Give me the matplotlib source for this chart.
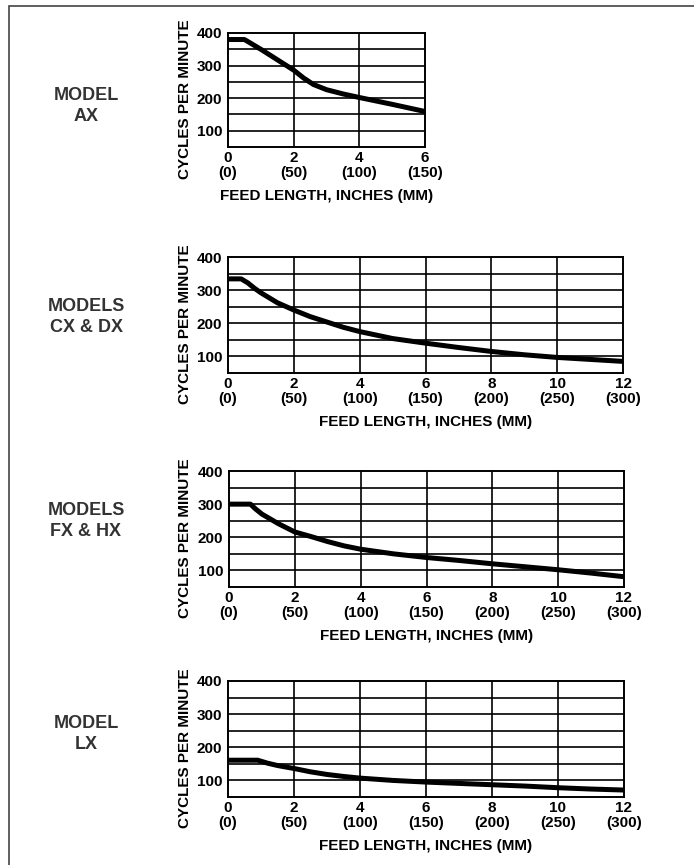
import matplotlib
matplotlib.use("Agg")
import matplotlib.pyplot as plt
from matplotlib.patches import Rectangle

plt.rcParams['font.family'] = ['Liberation Sans', 'DejaVu Sans']
plt.rcParams['font.weight'] = 'bold'

# Data (feed length in inches, cycles per minute)
ax_x = [0, 0.5, 1, 1.5, 2, 2.3, 2.6, 3, 3.5, 4, 5, 6]
ax_y = [380, 380, 350, 318, 286, 262, 242, 226, 213, 202, 181, 159]

cx_x = [0, 0.4, 0.6, 0.8, 1, 1.5, 2, 2.5, 3, 3.5, 4, 5, 6, 7, 8, 9, 10, 11, 12]
cx_y = [334, 334, 322, 306, 292, 262, 240, 220, 204, 188, 175, 154, 140, 127, 115, 105, 97, 91, 85]

fx_x = [0, 0.65, 0.8, 1, 1.5, 2, 2.5, 3, 3.5, 4, 5, 6, 7, 8, 9, 10, 11, 12]
fx_y = [300, 300, 286, 270, 241, 216, 202, 187, 174, 164, 150, 139, 130, 120, 111, 102, 92, 81]

lx_x = [0, 0.9, 1.2, 1.5, 2, 2.5, 3, 3.5, 4, 5, 6, 7, 8, 9, 10, 11, 12]
lx_y = [161, 161, 152, 145, 136, 126, 118, 112, 107, 100, 95, 91, 87, 83, 78, 74, 71]

model_labels = ["MODEL\nAX", "MODELS\nCX & DX", "MODELS\nFX & HX", "MODEL\nLX"]
inch_ticks_6 = [0, 2, 4, 6]
mm_ticks_6 = [0, 50, 100, 150]
inch_ticks_12 = [0, 2, 4, 6, 8, 10, 12]
mm_ticks_12 = [0, 50, 100, 150, 200, 250, 300]
y_ticks = [100, 200, 300, 400]

W, H = 694, 865
fig = plt.figure(figsize=(W / 100, H / 100), dpi=100)

# outer frame (cut at right/bottom)
fig.patches.append(Rectangle((9 / W, -0.1), 1.2, 1 - 6 / H + 0.1,
                             transform=fig.transFigure, fill=False,
                             edgecolor='#444444', linewidth=1.2))

def px_axes(left, right, top, bottom):
    return fig.add_axes([left / W, 1 - bottom / H, (right - left) / W, (bottom - top) / H])

panels = [
    # l, r, t, b, x, y, inch ticks, mm ticks, xmax, model label y
    (228, 425, 33, 147, ax_x, ax_y, inch_ticks_6, mm_ticks_6, 6, 106),
    (228, 623, 257, 373, cx_x, cx_y, inch_ticks_12, mm_ticks_12, 12, 317),
    (229, 624, 471, 587, fx_x, fx_y, inch_ticks_12, mm_ticks_12, 12, 521),
    (228, 624, 681, 797, lx_x, lx_y, inch_ticks_12, mm_ticks_12, 12, 734),
]

for i, (l, r, t, b, xs, ys, it, mt, xmax, ly) in enumerate(panels):
    a = px_axes(l, r, t, b)
    a.set_xlim(0, xmax)
    a.set_ylim(50, 400)
    for gx in it[1:-1]:
        a.axvline(gx, color='black', linewidth=1.2, zorder=1)
    for gy in range(100, 400, 50):
        a.axhline(gy, color='black', linewidth=1.2, zorder=1)
    a.plot(xs, ys, color='black', linewidth=3.6, solid_capstyle='butt',
           solid_joinstyle='round', zorder=3)
    for s in a.spines.values():
        s.set_linewidth(1.4)
    a.set_xticks(it)
    a.set_xticklabels([f"{v}\n({m})" for v, m in zip(it, mt)],
                      fontsize=11, fontweight='bold', linespacing=1.07)
    a.set_yticks(y_ticks)
    a.set_yticklabels([str(v) for v in y_ticks], fontsize=11, fontweight='bold')
    a.tick_params(axis='y', length=0, pad=4)
    a.tick_params(axis='x', length=0, pad=3)
    a.set_xlabel("FEED LENGTH, INCHES (MM)", fontsize=11, fontweight='bold', labelpad=6.5)
    a.set_ylabel("CYCLES PER MINUTE", fontsize=11, fontweight='bold')
    a.yaxis.set_label_coords((192 - l) / (r - l), 0.42)
    fig.text(86 / W, 1 - ly / H, model_labels[i], ha='center', va='center',
             fontsize=13, fontweight='bold', linespacing=1.3, color='#333333')

fig.savefig("out.png", dpi=100)
